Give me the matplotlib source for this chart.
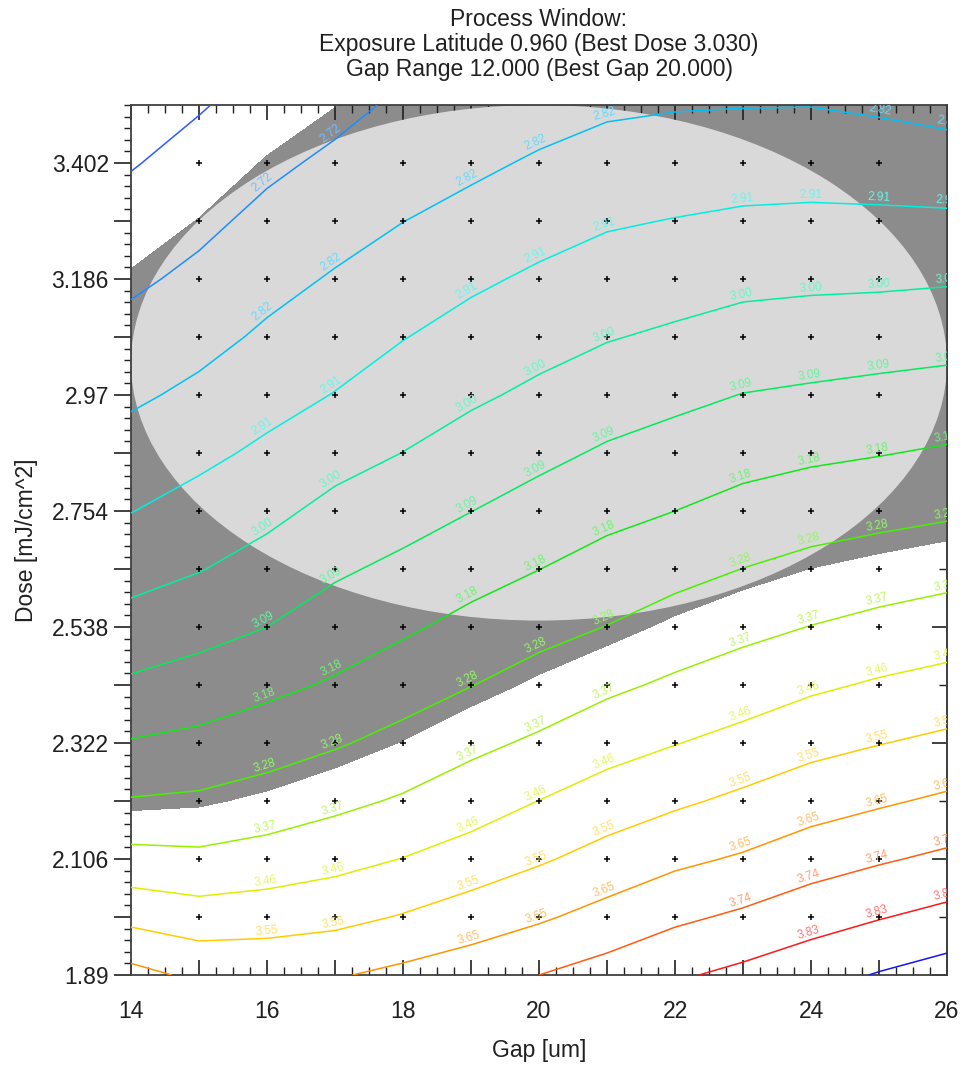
import numpy as np
import matplotlib
matplotlib.use('Agg')
import matplotlib.pyplot as plt
import matplotlib.transforms as mtransforms
from matplotlib.patches import Ellipse
from matplotlib.path import Path
from matplotlib.ticker import FixedLocator, NullFormatter

plt.rcParams['font.family'] = ['Liberation Sans', 'DejaVu Sans']

# grid of the simulation: gap [um] x dose [mJ/cm^2]
gap = [14, 15, 16, 17, 18, 19, 20, 21, 22, 23, 24, 25, 26]
dose = [1.890, 1.998, 2.106, 2.214, 2.322, 2.430, 2.538, 2.646,
        2.754, 2.862, 2.970, 3.078, 3.186, 3.294, 3.402, 3.510]

# value at each grid node, one row per dose
cd = [
    [3.675, 3.625, 3.623, 3.637, 3.668, 3.698, 3.735, 3.771, 3.815, 3.849, 3.885, 3.925, 3.959],
    [3.525, 3.499, 3.509, 3.525, 3.557, 3.596, 3.633, 3.676, 3.718, 3.750, 3.790, 3.822, 3.853],
    [3.396, 3.387, 3.405, 3.430, 3.461, 3.497, 3.540, 3.584, 3.626, 3.655, 3.694, 3.725, 3.753],
    [3.281, 3.290, 3.314, 3.345, 3.377, 3.416, 3.460, 3.501, 3.536, 3.570, 3.606, 3.633, 3.660],
    [3.189, 3.206, 3.234, 3.266, 3.303, 3.346, 3.381, 3.424, 3.456, 3.487, 3.523, 3.548, 3.571],
    [3.105, 3.129, 3.161, 3.193, 3.234, 3.273, 3.312, 3.349, 3.382, 3.412, 3.444, 3.469, 3.489],
    [3.032, 3.060, 3.091, 3.134, 3.169, 3.209, 3.246, 3.277, 3.313, 3.343, 3.369, 3.392, 3.412],
    [2.966, 2.995, 3.033, 3.078, 3.111, 3.148, 3.182, 3.217, 3.247, 3.276, 3.301, 3.319, 3.336],
    [2.905, 2.940, 2.977, 3.023, 3.055, 3.090, 3.125, 3.158, 3.183, 3.212, 3.233, 3.248, 3.262],
    [2.852, 2.886, 2.924, 2.967, 3.000, 3.037, 3.069, 3.102, 3.126, 3.151, 3.167, 3.179, 3.193],
    [2.800, 2.834, 2.875, 2.910, 2.952, 2.985, 3.016, 3.047, 3.070, 3.093, 3.104, 3.115, 3.126],
    [2.752, 2.787, 2.829, 2.866, 2.904, 2.939, 2.968, 2.994, 3.013, 3.034, 3.042, 3.050, 3.058],
    [2.707, 2.743, 2.787, 2.823, 2.859, 2.892, 2.921, 2.946, 2.960, 2.976, 2.982, 2.984, 2.990],
    [2.666, 2.702, 2.746, 2.781, 2.814, 2.844, 2.873, 2.898, 2.910, 2.921, 2.925, 2.924, 2.922],
    [2.625, 2.663, 2.705, 2.740, 2.776, 2.797, 2.826, 2.849, 2.859, 2.867, 2.869, 2.863, 2.854],
    [2.584, 2.624, 2.665, 2.698, 2.738, 2.750, 2.778, 2.801, 2.809, 2.812, 2.813, 2.802, 2.786],
]

levels = [2.631, 2.723, 2.815, 2.907, 2.999, 3.091, 3.183, 3.275,
          3.367, 3.459, 3.551, 3.645, 3.735, 3.827, 3.919]
level_labels = ['2.63', '2.72', '2.82', '2.91', '3.00', '3.09', '3.18', '3.28',
                '3.37', '3.46', '3.55', '3.65', '3.74', '3.83', '3.92']
line_colors = ['#2b5cff', '#1e8cff', '#00c0f8', '#00f0e0', '#00f0a0', '#00ec5c',
               '#10e818', '#48f000', '#98f000', '#dcf000', '#ffcc00', '#ff9400',
               '#ff5c10', '#ff1818', '#1414ff']

# process window
window_low, window_high = 2.70, 3.30
best_gap, best_dose = 20.0, 3.030
gap_range, exposure_latitude = 12.0, 0.960

y_tick_labels = ['1.89', '', '2.106', '', '2.322', '', '2.538', '', '2.754', '',
                 '2.97', '', '3.186', '', '3.402']
x_tick_labels = ['14', '', '16', '', '18', '', '20', '', '22', '', '24', '', '26']
label_cols = [16, 17, 19, 20, 21, 23, 24, 25, 26]


def lighten(c, f=0.4):
    rgb = np.array(matplotlib.colors.to_rgb(c))
    return tuple(rgb + (1 - rgb) * f)


def split_path(path):
    verts, codes = path.vertices, path.codes
    if codes is None:
        return [verts]
    starts = list(np.where(codes == Path.MOVETO)[0]) + [len(verts)]
    return [verts[a:b] for a, b in zip(starts[:-1], starts[1:]) if b - a > 1]


fig = plt.figure(figsize=(9.64, 10.67), dpi=100)
ax = fig.add_axes([131 / 964, 1 - 975 / 1067, 816 / 964, 870 / 1067])
ax.set_xlim(gap[0], gap[-1])
ax.set_ylim(dose[0], dose[-1])

G, D = np.meshgrid(gap, dose)
Z = np.array(cd)

win = ax.contourf(G, D, Z, levels=[window_low, window_high], colors=['#8c8c8c'],
                  antialiased=False, zorder=1)
ell = Ellipse((best_gap, best_dose), gap_range, exposure_latitude,
              facecolor='#d9d9d9', edgecolor='none', zorder=2)
ax.add_patch(ell)
ell.set_clip_path(win.get_paths()[0], ax.transData)

cs = ax.contour(G, D, Z, levels=levels, colors=line_colors, linewidths=1.1, zorder=3)

# grid node markers
gi, di = np.meshgrid(gap[1:-1], dose[1:-1])
ax.plot(gi.ravel(), di.ravel(), '+', color='black', ms=4, mew=1.1, zorder=4)

# contour labels, sitting on top of the lines
for k, path in enumerate(cs.get_paths()):
    for seg in split_path(path):
        order = np.argsort(seg[:, 0])
        xs, ys = seg[order, 0], seg[order, 1]
        for g in label_cols:
            if g < xs.min() - 1e-6 or g > xs.max() + 1e-6:
                continue
            y = np.interp(g, xs, ys)
            if y < 1.94 or y > 3.49:
                continue
            xa = max(g - 0.3, xs.min())
            xb = min(g + 0.3, xs.max())
            pa = ax.transData.transform((xa, np.interp(xa, xs, ys)))
            pb = ax.transData.transform((xb, np.interp(xb, xs, ys)))
            ang = np.degrees(np.arctan2(pb[1] - pa[1], pb[0] - pa[0]))
            r = np.radians(ang)
            off = mtransforms.offset_copy(ax.transData, fig=fig, x=-np.sin(r) * 5.5,
                                          y=np.cos(r) * 5.5, units='points')
            ax.text(g, y, level_labels[k], transform=off, rotation=ang,
                    rotation_mode='anchor', ha='center', va='center', fontsize=8.5,
                    color=lighten(line_colors[k]), clip_on=True, zorder=5)

# axes, ticks
for s in ax.spines.values():
    s.set_color('#404040')
    s.set_linewidth(1.3)

ax.set_xticks(gap)
ax.set_xticklabels(x_tick_labels)
ax.xaxis.set_minor_locator(FixedLocator(np.arange(14, 26.001, 0.25)))
ax.set_yticks(dose[:15])
ax.set_yticklabels(y_tick_labels)
ax.yaxis.set_minor_locator(FixedLocator(np.arange(1.89, 3.5101, 0.0216)))

ax.tick_params(axis='x', which='major', direction='in', length=11, width=1.2,
               top=True, pad=18, labelsize=16.5, colors='#202020')
ax.tick_params(axis='x', which='minor', direction='in', length=5.5, width=1, top=True,
               colors='#202020')
ax.tick_params(axis='y', which='major', direction='out', length=12, width=1.2,
               right=False, pad=4, labelsize=16.5, colors='#202020')
ax.tick_params(axis='y', which='minor', direction='out', length=5, width=1, right=False,
               colors='#202020')

sec = ax.secondary_yaxis('right')
sec.set_yticks(dose[0:15:2])
sec.yaxis.set_major_formatter(NullFormatter())
sec.yaxis.set_minor_locator(FixedLocator(dose[1:15:2]))
sec.tick_params(which='major', direction='in', length=11, width=1.2, colors='#202020')
sec.tick_params(which='minor', direction='in', length=6, width=1, colors='#202020')
sec.spines['right'].set_color('#404040')
sec.spines['right'].set_linewidth(1.3)

fig.text(539 / 964, 1 - 8 / 1067,
         'Process Window:\n'
         f'Exposure Latitude {exposure_latitude:.3f} (Best Dose {best_dose:.3f})\n'
         f'Gap Range {gap_range:.3f} (Best Gap {best_gap:.3f})',
         ha='center', va='top', fontsize=16.5, linespacing=1.12, color='#202020')
fig.text(27 / 964, 1 - 540 / 1067, 'Dose [mJ/cm^2]', rotation=90,
         ha='center', va='center', fontsize=16.5, color='#202020')
fig.text(539 / 964, 1 - 1050 / 1067, 'Gap [um]', ha='center', va='center',
         fontsize=16.5, color='#202020')

fig.savefig('out.png', dpi=100)
